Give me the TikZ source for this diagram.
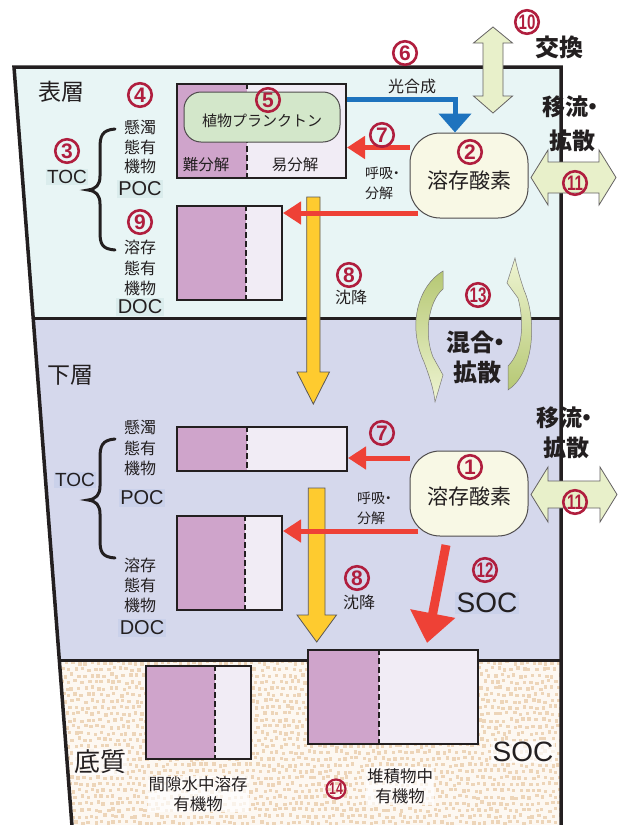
\documentclass[tikz,border=0pt]{standalone}
\usepackage{graphicx}
\usepackage{fontspec}
\setmainfont{Noto Sans CJK JP}
\newfontfamily\lat{Liberation Sans}
\usetikzlibrary{arrows.meta}
\newcommand\fs[2]{\fontsize{#1}{#2}\selectfont}
\newcommand\ndot{\kern-0.28em・}
\newcommand\twod[1]{\scalebox{0.72}[1]{#1}}
\definecolor{surf}{HTML}{E8F5F5}
\definecolor{low}{HTML}{D5D8EC}
\definecolor{purp}{HTML}{CFA4CB}
\definecolor{lite}{HTML}{F1ECF5}
\definecolor{plank}{HTML}{D3E7CA}
\definecolor{cream}{HTML}{F8F8E5}
\definecolor{redar}{HTML}{EE4136}
\definecolor{bluear}{HTML}{1E73BE}
\definecolor{yel}{HTML}{FECB2F}
\definecolor{dbl}{HTML}{E8F0CA}
\definecolor{numred}{HTML}{B01E3E}
\definecolor{ink}{HTML}{231F20}
\definecolor{darkg}{HTML}{B6C874}
\definecolor{lightg}{HTML}{EEF4D2}
\definecolor{lblS}{HTML}{DAECEC}
\definecolor{lblL}{HTML}{CAD1EA}
\definecolor{dotc}{HTML}{EDD5B9}
\definecolor{sedbg}{HTML}{FDF8F2}
\tikzset{
 boxst/.style={draw=ink, line width=2pt, inner sep=0pt},
 divline/.style={draw=ink, line width=2.8pt, dash pattern=on 6pt off 3pt},
 plankst/.style={draw=ink!80, line width=1pt, fill=plank, rounded corners=17pt, inner sep=0pt},
 oxst/.style={draw=ink!80, line width=1pt, fill=cream, rounded corners=30pt, minimum width=118pt, minimum height=85pt, inner sep=0pt},
 redarr/.style={draw=redar, line width=5pt, -{Triangle[length=18pt,width=22pt]}},
 bluearr/.style={draw=bluear, line width=5pt, line join=miter, -{Triangle[length=19pt,width=32pt]}},
 bigred/.style={draw=redar, line width=9pt, -{Triangle[length=30pt,width=44pt]}},
 yelarr/.style={fill=yel, draw=ink!75, line width=0.8pt},
 dblarr/.style={fill=dbl, draw=ink!70, line width=0.8pt},
 mixarr/.style={draw=ink!60, line width=0.5pt},
 cnum/.style={circle, draw=numred, line width=2.6pt, minimum size=23.5pt, inner sep=0pt, text=numred, font=\lat\bfseries\fs{21}{21}},
 lbl/.style={text=ink, inner sep=0pt},
 latl/.style={text=ink, inner sep=1.5pt, font=\lat\fs{20}{20}},
 frame/.style={draw=ink, line width=3.5pt, line join=miter},
 bline/.style={draw=ink, line width=3pt},
 wbg/.style={fill=white, fill opacity=0.7, text opacity=1},
}
\newcommand\orgbox[6]{%
 \fill[purp] (#2,#3) rectangle (#6,#5);
 \fill[lite] (#6,#3) rectangle (#4,#5);
 \draw[divline] (#6,#3) -- (#6,#5);
 \node[boxst, minimum width={(#4-#2)*1pt}, minimum height={(#5-#3)*1pt}, anchor=north west] (#1) at (#2,#3) {};
}
\begin{document}
\begin{tikzpicture}[x=1pt,y=-1pt]
\useasboundingbox (0,0) rectangle (621,825);
\fill[white] (0,0) rectangle (621,825);
% layers
\fill[surf] (14,67) -- (561,67) -- (561,318) -- (33.2,318) -- cycle;
\fill[low] (33.2,318) -- (561,318) -- (561,660) -- (59.4,660) -- cycle;
\begin{scope}
\clip (59.4,660) -- (561,660) -- (561,825) -- (72,825) -- cycle;
\fill[sedbg] (55,655) rectangle (565,830);
\pgfmathsetseed{7}
\foreach \r in {0,...,26}{\foreach \c in {0,...,78}{
 \pgfmathsetmacro\xx{58+\c*6.4+mod(\r,2)*3.2+rand*1.5}
 \pgfmathsetmacro\yy{661+\r*6.4+rand*1.5}
 \fill[dotc] (\xx,\yy) rectangle ++(3.4,3.4);}}
\end{scope}
\draw[bline] (33.2,318) -- (561,318);
\draw[bline] (59.4,660) -- (561,660);
\draw[frame] (72,826) -- (14,67) -- (561,67) -- (561,826);

% organic matter boxes
\orgbox{pocU}{176}{83}{345}{177}{247}
\orgbox{docU}{176}{205}{281}{299}{246}
\orgbox{pocL}{176}{426}{346}{470}{247}
\orgbox{docL}{176}{515}{281}{609}{245}
\orgbox{sedW}{145}{665}{250}{758}{215}
\orgbox{sedS}{307}{649}{477}{743}{379}

\node[plankst, minimum width=156pt, minimum height=50pt] (plk) at (262,117) {};
\node[lbl, font=\fs{15}{15}] (plkT) at (262,121) {植物プランクトン};

% settling arrows
\draw[yelarr] (306.7,197) -- (320,197) -- (320,372) -- (329.5,372) -- (313.3,404) -- (297,372) -- (306.7,372) -- cycle;
\draw[yelarr] (308.3,488) -- (325,488) -- (325,615) -- (336.5,615) -- (316.7,642) -- (297,615) -- (308.3,615) -- cycle;

% dissolved oxygen
\node[oxst] (ox2) at (469,175.5) {};
\node[oxst] (ox1) at (469,493.5) {};

% arrows
\coordinate (bc) at (455,99.5);
\draw[bluearr] (pocU.east |- bc) -- (bc) -- (bc |- ox2.north);
\draw[redarr] (ox2.west |- 0,147.5) -- (pocU.east |- 0,147.5);
\coordinate (r9u) at (418,213);
\draw[redarr] (r9u) -- (docU.east |- r9u);
\draw[redarr] (ox1.west |- 0,458) -- (pocL.east |- 0,458);
\coordinate (r9l) at (418,531);
\draw[redarr] (r9l) -- (docL.east |- r9l);
\coordinate (socA) at (446,545);
\coordinate (socB) at (427,643);
\draw[bigred] (socA) -- (socB);

% exchange arrows
\draw[dblarr] (493,27) -- (512.5,43) -- (503,43) -- (503,96) -- (512.5,96) -- (493,113) -- (473.5,96) -- (483,96) -- (483,43) -- (473.5,43) -- cycle;
\draw[dblarr] (531,177.5) -- (548,150) -- (548,162) -- (599,162) -- (599,150) -- (616,177.5) -- (599,205) -- (599,193) -- (548,193) -- (548,205) -- cycle;
\draw[dblarr] (531,494.5) -- (548,467) -- (548,481) -- (600,481) -- (600,467) -- (617,494.5) -- (600,522) -- (600,508) -- (548,508) -- (548,522) -- cycle;

% mixing arrows
\shadedraw[mixarr, top color=darkg, bottom color=lightg] (443,271) .. controls (418,286) and (407,325) .. (424,362) .. controls (429,375) and (434,390) .. (435,402) -- (443,375) -- (433,357) .. controls (424,335) and (428,302) .. (443,289) -- cycle;
\shadedraw[mixarr, top color=lightg, bottom color=darkg] (508,390) .. controls (533,374) and (538,322) .. (524,290) .. controls (520,278) and (517,268) .. (515,258) -- (507,283) -- (518,298) .. controls (525,325) and (522,352) .. (508,366) -- cycle;

% texts
\node[lbl, font=\fs{23}{23}] (hyo) at (61,92) {表層};
\node[lbl, font=\fs{23}{23}] (kaso) at (70,375) {下層};
\node[lbl, wbg, inner sep=1pt, font=\fs{26}{26}] (teis) at (100,762) {底質};
\node[lbl, font=\fs{15.5}{15.5}] (nanU) at (206,165) {難分解};
\node[lbl, font=\fs{15.5}{15.5}] (ekiU) at (295,165) {易分解};
\node[lbl, font=\fs{16}{19.5}, align=center] (kenU) at (140,147) {懸濁\\態有\\機物};
\node[lbl, font=\fs{16}{20.5}, align=center] (yoU) at (140,268) {溶存\\態有\\機物};
\node[lbl, font=\fs{16}{20.5}, align=center] (kenL) at (140,448) {懸濁\\態有\\機物};
\node[lbl, font=\fs{16}{20}, align=center] (yoL) at (140,585) {溶存\\態有\\機物};
\node[latl, fill=lblS, font=\lat\fs{19}{19}] (tocU) at (67,177) {TOC};
\node[latl, fill=lblS] (pocUt) at (140,189) {POC};
\node[latl, fill=lblS] (docUt) at (140,307) {DOC};
\node[latl, fill=lblL, font=\lat\fs{19}{19}] (tocL) at (75,480) {TOC};
\node[latl, fill=lblL] (pocLt) at (142,498) {POC};
\node[latl, fill=lblL] (docLt) at (142,628) {DOC};
\node[latl, fill=lblL, font=\lat\fs{28}{28}] (socL) at (487,603) {SOC};
\node[latl, wbg, font=\lat\fs{28}{28}] (socS) at (523,752) {SOC};
\node[lbl, font=\fs{16}{16}] (kogo) at (412,86) {光合成};
\node[lbl, font=\fs{14}{20}, align=left, anchor=west] (koU) at (365,183) {呼吸\ndot\\分解};
\node[lbl, font=\fs{14}{20}, align=left, anchor=west] (koL) at (357,508) {呼吸\ndot\\分解};
\node[lbl, font=\fs{16}{16}] (chinU) at (351,297) {沈降};
\node[lbl, font=\fs{16}{16}] (chinL) at (359,602) {沈降};
\node[lbl, font=\fs{21}{21}] (oxT2) at (469,181) {溶存酸素};
\node[lbl, font=\fs{21}{21}] (oxT1) at (469,497) {溶存酸素};
\node[lbl, font=\bfseries\fs{24}{24}] (koka) at (559,47) {交換};
\node[lbl, font=\bfseries\fs{23}{23}, anchor=west] (iryU1) at (542,107) {移流\ndot};
\node[lbl, font=\bfseries\fs{23}{23}, anchor=west] (iryU2) at (549,141) {拡散};
\node[lbl, font=\bfseries\fs{23}{23}, anchor=west] (iryL1) at (536,418) {移流\ndot};
\node[lbl, font=\bfseries\fs{23}{23}, anchor=west] (iryL2) at (543,448) {拡散};
\node[lbl, font=\bfseries\fs{24}{24}, anchor=west] (kon1) at (446,342) {混合\ndot};
\node[lbl, font=\bfseries\fs{24}{24}, anchor=west] (kon2) at (453,372) {拡散};
\node[lbl, wbg, inner sep=1pt, font=\fs{16.5}{19.5}, align=center] (kangeki) at (198,794) {間隙水中溶存\\有機物};
\node[lbl, wbg, inner sep=1pt, font=\fs{16.5}{20}, align=center] (taiseki) at (400,786) {堆積物中\\有機物};

% braces
\draw[ink, line width=3pt, line cap=round] (115,129) .. controls (102,130) and (100,136) .. (100,148) -- (100,176) .. controls (100,185) and (96,189) .. (88,190) .. controls (96,191) and (100,195) .. (100,204) -- (100,232) .. controls (100,244) and (102,249) .. (115,250);
\draw[ink, line width=3pt, line cap=round] (115,439) .. controls (102,440) and (100,446) .. (100,458) -- (100,486) .. controls (100,495) and (96,499) .. (88,500) .. controls (96,501) and (100,505) .. (100,514) -- (100,540) .. controls (100,552) and (102,557) .. (115,558);

% circled numbers
\node[cnum] (n1) at (470,467) {1};
\node[cnum] (n2) at (470,152) {2};
\node[cnum] (n3) at (67,151) {3};
\node[cnum] (n4) at (140,95) {4};
\node[cnum] (n5) at (268,100) {5};
\node[cnum] (n6) at (405,53) {6};
\node[cnum] (n7u) at (382,135) {7};
\node[cnum] (n7l) at (382,433) {7};
\node[cnum] (n8u) at (349,275) {8};
\node[cnum] (n8l) at (357,578) {8};
\node[cnum] (n9) at (140,222) {9};
\node[cnum] (n10) at (527,22) {\twod{10}};
\node[cnum] (n11u) at (575,183) {\twod{11}};
\node[cnum] (n11l) at (575,502) {\twod{11}};
\node[cnum] (n12) at (485,570) {\twod{12}};
\node[cnum] (n13) at (478,295) {\twod{13}};
\node[cnum, minimum size=19pt, line width=2.2pt, font=\lat\bfseries\fs{17}{17}] (n14) at (336,789) {\twod{14}};
\end{tikzpicture}
\end{document}
